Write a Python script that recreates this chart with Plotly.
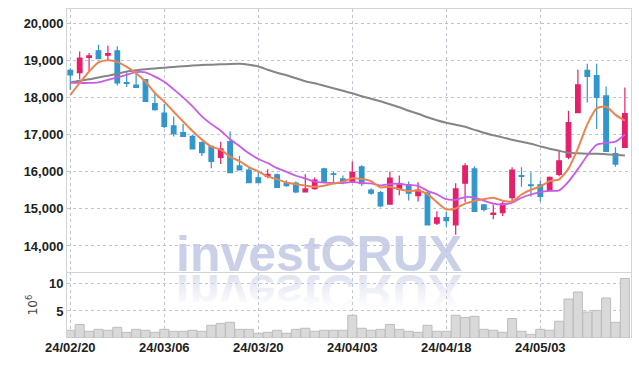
import base64
import plotly.graph_objects as go

dates = ["24/02/20", "24/02/21", "24/02/22", "24/02/23", "24/02/26", "24/02/27", "24/02/28", "24/02/29",
         "24/03/04", "24/03/05", "24/03/06", "24/03/07", "24/03/08", "24/03/11", "24/03/12", "24/03/13",
         "24/03/14", "24/03/15", "24/03/18", "24/03/19", "24/03/20", "24/03/21", "24/03/22", "24/03/25",
         "24/03/26", "24/03/27", "24/03/28", "24/03/29", "24/04/01", "24/04/02", "24/04/03", "24/04/04",
         "24/04/05", "24/04/08", "24/04/09", "24/04/11", "24/04/12", "24/04/15", "24/04/16", "24/04/17",
         "24/04/18", "24/04/19", "24/04/22", "24/04/23", "24/04/24", "24/04/25", "24/04/26", "24/04/29",
         "24/04/30", "24/05/02", "24/05/03", "24/05/07", "24/05/08", "24/05/09", "24/05/10", "24/05/13",
         "24/05/14", "24/05/16", "24/05/17", "24/05/20"]

opens = [18740, 18680, 19090, 19270, 19150, 19270, 18410, 18340, 18490, 17840,
         17590, 17240, 17060, 16960, 16790, 16690, 16390, 16820, 16160, 16050,
         15840, 15875, 15920, 15695, 15700, 15460, 15550, 16080, 15950, 15810,
         15720, 16135, 15510, 15440, 15130, 15530, 15650, 15360, 15425, 14615,
         14765, 14570, 15695, 16080, 15110, 14850, 14900, 15305, 15900, 15650,
         15650, 15495, 15930, 16400, 17600, 18740, 18600, 18050, 16490, 16660]
highs = [18800, 19250, 19210, 19430, 19405, 19390, 18690, 18670, 18490, 18145,
         17830, 17495, 17290, 17000, 16820, 16710, 16810, 17090, 16430, 16125,
         16010, 16070, 15955, 15775, 15740, 15935, 15845, 16110, 16010, 15900,
         16280, 16180, 15560, 15485, 16010, 15900, 15740, 15720, 15470, 14940,
         14930, 15695, 16235, 16150, 15110, 15110, 15200, 16125, 16125, 15990,
         15765, 15875, 16590, 17650, 18760, 18920, 18920, 18305, 16667, 18280]
lows = [18220, 18500, 18710, 19060, 19010, 18330, 18290, 18270, 17890, 17650,
        17180, 16955, 16940, 16610, 16430, 16100, 16210, 15980, 16035, 15695,
        15695, 15830, 15575, 15600, 15425, 15460, 15515, 15700, 15695, 15665,
        15710, 15620, 15380, 15045, 15120, 15370, 15225, 15200, 14550, 14565,
        14520, 14300, 15180, 14920, 14930, 14720, 14810, 15200, 15600, 15330,
        15200, 15490, 15880, 16340, 17600, 17870, 17155, 16540, 16140, 16650]
closes = [18620, 19070, 19130, 19060, 19190, 18400, 18390, 18280, 17900, 17680,
          17225, 17030, 16960, 16620, 16520, 16280, 16620, 15980, 16055, 15710,
          15710, 15935, 15580, 15630, 15460, 15540, 15775, 15720, 15930, 15720,
          15990, 15680, 15425, 15080, 15830, 15650, 15425, 15510, 14570, 14760,
          14685, 15540, 16160, 14930, 14990, 14890, 15135, 16050, 15880, 15630,
          15335, 15850, 16300, 17330, 18350, 18580, 18010, 16550, 16210, 17570]

volumes_m = [1.43, 2.5, 1.24, 1.6, 1.43, 1.98, 1.05, 1.6, 1.43, 1.05,
             1.6, 1.24, 1.24, 1.43, 1.24, 2.35, 2.7, 2.9, 1.6, 1.6,
             0.87, 1.05, 1.43, 0.87, 1.6, 1.8, 1.24, 1.43, 1.43, 1.43,
             4.2, 1.8, 1.43, 1.6, 2.5, 1.6, 1.24, 1.05, 2.35, 1.24,
             1.24, 4.2, 3.8, 4.0, 1.6, 1.43, 1.05, 3.6, 1.24, 0.68,
             1.6, 1.43, 3.1, 7.2, 8.5, 4.8, 5.1, 7.4, 2.9, 11.0]

# moving-average values before enough in-chart closes exist
ma5_head = [18080, 18400, 18710, 18955]
ma10_head = [18400, 18400, 18400, 18415, 18486, 18550, 18620, 18690, 18685]
ma_long = [18414, 18459, 18500, 18549, 18595, 18649, 18708, 18743, 18770, 18792,
           18811, 18832, 18851, 18870, 18886, 18892, 18903, 18914, 18919, 18892,
           18846, 18757, 18676, 18608, 18527, 18446, 18392, 18324, 18257, 18189,
           18122, 18041, 17973, 17905, 17824, 17743, 17649, 17568, 17473, 17392,
           17324, 17270, 17216, 17135, 17054, 16986, 16932, 16865, 16811, 16757,
           16689, 16622, 16568, 16514, 16500, 16492, 16486, 16478, 16459, 16441]

price_ticks = [14000, 15000, 16000, 17000, 18000, 19000, 20000]
vol_ticks = [5, 10]
date_ticks = ["24/02/20", "24/03/06", "24/03/20", "24/04/03", "24/04/18", "24/05/03"]

n = len(closes)
ma5 = ma5_head + [sum(closes[i - 4:i + 1]) / 5 for i in range(4, n)]
ma10 = ma10_head + [sum(closes[i - 9:i + 1]) / 10 for i in range(9, n)]

UP = "#E61F6B"
DOWN = "#3196CB"
GRID = "#BFC3D6"
BORDER = "#D4D4D4"
TICKFONT = dict(family="Liberation Sans, Arial, sans-serif", size=13, color="#222222", weight="bold")

L, R, T, B = 67, 8, 9, 28
W, H = 639, 366
PW, PH = W - L - R, H - T - B


def px_x(px):
    return (px - L) / PW


def px_y(py):
    return (H - B - py) / PH


fig = go.Figure()
fig.add_trace(go.Bar(x=dates, y=volumes_m, xaxis="x2", yaxis="y2",
                     marker=dict(color="#D9D9D9", line=dict(color="#BDBDBD", width=1)),
                     showlegend=False))
fig.add_trace(go.Candlestick(x=dates, open=opens, high=highs, low=lows, close=closes,
                             increasing=dict(line=dict(color=UP, width=1.2), fillcolor=UP),
                             decreasing=dict(line=dict(color=DOWN, width=1.2), fillcolor=DOWN),
                             whiskerwidth=0, showlegend=False))
fig.add_trace(go.Scatter(x=dates, y=ma_long, mode="lines",
                         line=dict(color="#858585", width=2, shape="spline", smoothing=0.6), showlegend=False))
fig.add_trace(go.Scatter(x=dates, y=ma10, mode="lines",
                         line=dict(color="#C95BE6", width=1.8, shape="spline", smoothing=0.6), showlegend=False))
fig.add_trace(go.Scatter(x=dates, y=ma5, mode="lines",
                         line=dict(color="#EC8452", width=2, shape="spline", smoothing=0.6), showlegend=False))

split = px_y(272)

fig.update_layout(
    width=W, height=H,
    margin=dict(l=L, r=R, t=T, b=B, autoexpand=False),
    paper_bgcolor="white", plot_bgcolor="rgba(0,0,0,0)",
    bargap=0.04,
    xaxis=dict(type="category", range=[-0.35, n - 0.35], rangeslider=dict(visible=False),
               tickvals=date_ticks, showticklabels=False, showgrid=True, gridcolor=GRID,
               griddash="dot", gridwidth=1, showline=True, linecolor=BORDER, mirror=True,
               ticks="", anchor="y", zeroline=False, automargin=False),
    yaxis=dict(domain=[split, 1], range=[13297, 20397], tickvals=price_ticks, tickformat=",",
               showgrid=True, gridcolor=GRID, griddash="dot", gridwidth=1, showline=True,
               linecolor=BORDER, mirror=True, ticks="", tickfont=TICKFONT, zeroline=False,
               automargin=False),
    xaxis2=dict(type="category", range=[-0.35, n - 0.35], matches="x", anchor="y2",
                tickvals=date_ticks, ticktext=date_ticks, showgrid=True, gridcolor=GRID,
                griddash="dot", gridwidth=1, ticks="", tickfont=TICKFONT, showline=False,
                zeroline=False, automargin=False),
    yaxis2=dict(domain=[0, split], range=[0, 12.2], tickvals=vol_ticks, showgrid=True,
                gridcolor=GRID, griddash="dot", gridwidth=1, showline=True, linecolor=BORDER,
                mirror=True, ticks="", tickfont=TICKFONT, zeroline=False, automargin=False,
                title=dict(text="10<sup>6</sup>", font=dict(family="DejaVu Sans", size=12, color="#444"),
                           standoff=8)),
)

wm_font = "Liberation Sans, Arial, sans-serif"
fig.add_annotation(text="investCRUX", xref="paper", yref="paper",
                   x=px_x(318.5), y=px_y(254), xanchor="center", yanchor="middle",
                   showarrow=False,
                   font=dict(family=wm_font, size=50, color="rgba(192,200,227,0.85)", weight="bold"))

svg = ("<svg xmlns='http://www.w3.org/2000/svg' width='320' height='60' viewBox='0 0 320 60'>"
       "<defs><linearGradient id='g' gradientUnits='userSpaceOnUse' x1='0' y1='24' x2='0' y2='58'>"
       "<stop offset='0' stop-color='#c9d0e6' stop-opacity='0'/>"
       "<stop offset='1' stop-color='#c9d0e6' stop-opacity='0.6'/></linearGradient></defs>"
       "<g transform='translate(0,60) scale(1,-1)'>"
       "<text x='160' y='58' text-anchor='middle' font-family='Liberation Sans, Arial, sans-serif' "
       "font-weight='bold' font-size='50' fill='url(#g)'>investCRUX</text></g></svg>")
src = "data:image/svg+xml;base64," + base64.b64encode(svg.encode()).decode()
fig.add_layout_image(source=src, xref="paper", yref="paper",
                     x=px_x(318.5 - 160), y=px_y(273),
                     sizex=320 / PW, sizey=60 / PH, xanchor="left", yanchor="top",
                     sizing="stretch", layer="above", opacity=1)

fig.write_html("out.html", config={"displayModeBar": False},
               post_script="document.body.style.margin='0';document.body.style.padding='0';")
